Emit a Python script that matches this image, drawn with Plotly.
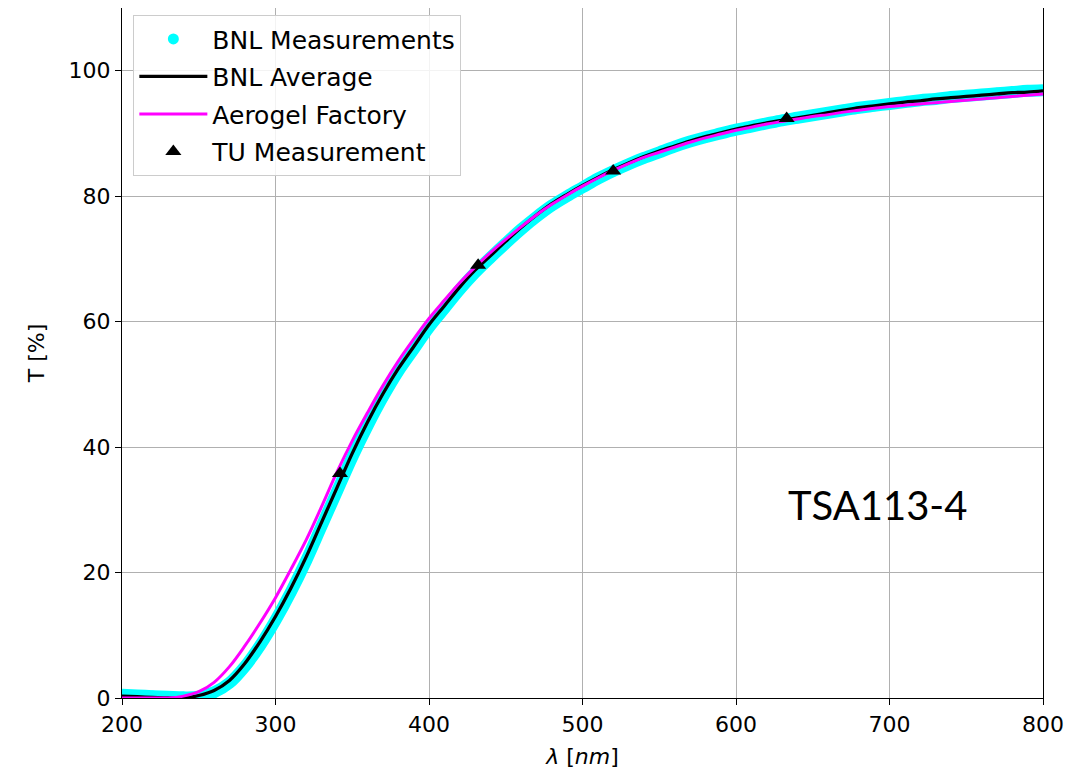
import plotly.graph_objects as go

# Wavelengths (nm)
wl = [200, 210, 220, 230, 240, 250, 260, 270, 280, 290, 300, 310, 320, 330, 340, 350,
      360, 370, 380, 390, 400, 410, 420, 430, 440, 450, 460, 470, 480, 490, 500, 510,
      520, 530, 540, 550, 560, 570, 580, 590, 600, 610, 620, 630, 640, 650, 660, 670,
      680, 690, 700, 710, 720, 730, 740, 750, 760, 770, 780, 790, 800]

# BNL average transmittance (%)
bnl_avg = [0.3, 0.2, 0.1, 0.0, 0.0, 0.4, 1.2, 2.8, 5.5, 9.0, 13.0, 17.5, 22.5, 28.0, 33.5, 39.0,
           44.0, 48.5, 52.5, 56.0, 59.5, 62.5, 65.5, 68.2, 70.5, 72.8, 75.0, 77.0, 78.8, 80.3, 81.7, 83.0,
           84.2, 85.3, 86.3, 87.2, 88.0, 88.8, 89.5, 90.1, 90.7, 91.2, 91.7, 92.1, 92.5, 92.9, 93.3, 93.7,
           94.1, 94.4, 94.7, 95.0, 95.2, 95.5, 95.7, 95.9, 96.1, 96.3, 96.5, 96.6, 96.8]

# BNL individual measurements (%)
bnl_meas = [0.5, 0.4, 0.3, 0.2, 0.1, 0.2, 0.9, 2.4, 5.0, 8.4, 12.4, 16.9, 21.9, 27.4, 32.9, 38.4,
            43.4, 48.0, 52.1, 55.6, 59.1, 62.1, 65.1, 67.8, 70.2, 72.5, 74.7, 76.7, 78.5, 80.0, 81.4, 82.8,
            84.0, 85.1, 86.1, 87.0, 87.9, 88.7, 89.4, 90.0, 90.6, 91.1, 91.6, 92.1, 92.5, 92.9, 93.3, 93.7,
            94.1, 94.4, 94.7, 95.0, 95.3, 95.5, 95.8, 96.0, 96.2, 96.4, 96.6, 96.8, 96.9]

# Aerogel Factory transmittance (%)
factory = [0.0, 0.0, 0.0, 0.0, 0.3, 1.0, 2.5, 5.0, 8.3, 12.0, 16.0, 20.5, 25.2, 30.5, 36.0, 41.0,
           45.5, 49.8, 53.7, 57.2, 60.5, 63.4, 66.2, 68.7, 71.0, 73.1, 75.1, 77.0, 78.7, 80.2, 81.6, 82.9,
           84.1, 85.2, 86.2, 87.0, 87.8, 88.6, 89.3, 89.9, 90.5, 91.0, 91.5, 91.9, 92.3, 92.7, 93.0, 93.4,
           93.7, 94.0, 94.3, 94.5, 94.7, 94.9, 95.1, 95.3, 95.5, 95.7, 95.9, 96.1, 96.3]

# TU measurement
tu_wl = [342, 432, 520, 633]
tu_T = [35.8, 69.0, 84.0, 92.4]

font_family = "DejaVu Sans"

fig = go.Figure()

fig.add_trace(go.Scatter(x=wl, y=bnl_meas, mode="lines", line=dict(color="#00FFFF", width=12, shape="spline"),
                         showlegend=False, legendgroup="meas", hoverinfo="skip"))
fig.add_trace(go.Scatter(x=wl, y=bnl_meas, mode="markers", name="BNL Measurements",
                         marker=dict(color="#00FFFF", size=11), legendgroup="meas"))
fig.add_trace(go.Scatter(x=wl, y=bnl_avg, mode="lines", name="BNL Average", legendgroup="avg",
                         line=dict(color="black", width=3.3, shape="spline")))
fig.add_trace(go.Scatter(x=wl, y=factory, mode="lines", name="Aerogel Factory", legendgroup="fac",
                         line=dict(color="#FF00FF", width=3, shape="spline")))
fig.add_trace(go.Scatter(x=tu_wl, y=tu_T, mode="markers", name="TU Measurement", legendgroup="tu",
                         marker=dict(color="black", size=14, symbol="triangle-up")))

axis_common = dict(
    showline=True, linecolor="black", linewidth=1.3, mirror=True,
    ticks="outside", ticklen=6, tickwidth=1.3, tickcolor="black",
    showgrid=True, gridcolor="#b0b0b0", gridwidth=1,
    zeroline=False,
    tickfont=dict(family=font_family, size=22, color="black"),
)

fig.update_xaxes(range=[200, 800], tickvals=[200, 300, 400, 500, 600, 700, 800],
                 title=dict(text="<i>λ</i> [<i>nm</i>]", font=dict(family=font_family, size=22, color="black"),
                            standoff=13),
                 **axis_common)
fig.update_yaxes(range=[0, 110], tickvals=[0, 20, 40, 60, 80, 100],
                 title=dict(text="T [%]", font=dict(family=font_family, size=22, color="black"),
                            standoff=17),
                 **axis_common)

fig.add_annotation(x=692, y=30.8, xref="x", yref="y", text="TSA113-4", showarrow=False,
                   font=dict(family="Lato", size=40, color="black"))

fig.update_layout(
    width=1074, height=775,
    margin=dict(l=114, r=39, t=0, b=85),
    paper_bgcolor="white", plot_bgcolor="white",
    legend=dict(x=0.012, y=0.99, xanchor="left", yanchor="top",
                bgcolor="rgba(255,255,255,0.85)", bordercolor="#cccccc", borderwidth=1.3,
                font=dict(family=font_family, size=25, color="black"),
                traceorder="grouped", tracegroupgap=2, itemwidth=68),
    font=dict(family=font_family),
)

fig.write_html("out.html")
